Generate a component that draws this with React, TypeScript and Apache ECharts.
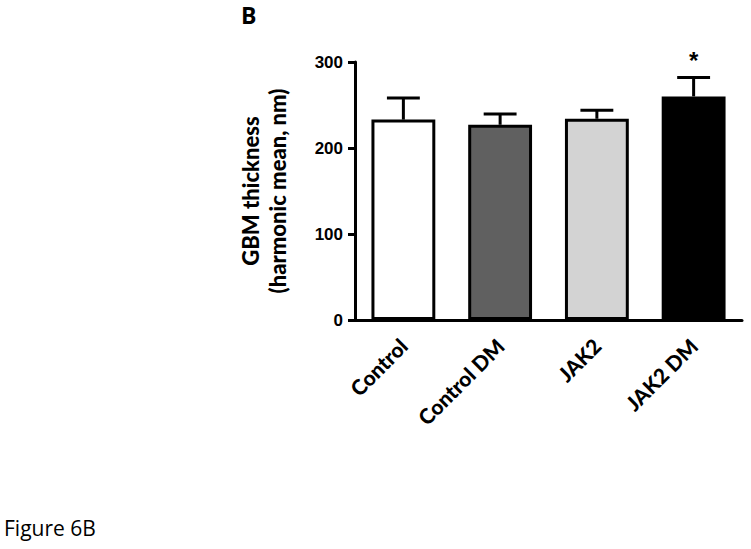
import React, { useEffect, useRef } from "react";
import * as echarts from "echarts";

const categories = ["Control", "Control DM", "JAK2", "JAK2 DM"];
const means = [233, 227, 234, 260];
const sems = [25, 12.5, 10, 22];
const barColors = ["#ffffff", "#606060", "#d3d3d3", "#000000"];
const significance = ["", "", "", "*"];
const yMin = 0;
const yMax = 300;
const yInterval = 100;

export default function App() {
  const ref = useRef<HTMLDivElement>(null);
  useEffect(() => {
    document.body.style.margin = "0";
    const chart = echarts.init(ref.current!, null, { renderer: "svg" });
    const errData = categories.map((c, i) => [i, means[i], means[i] + sems[i], significance[i]]);
    chart.setOption({
      animation: false,
      backgroundColor: "#ffffff",
      grid: { left: 355, right: 9, top: 62, bottom: 229, containLabel: false },
      xAxis: {
        type: "category",
        data: categories,
        axisLine: { lineStyle: { color: "#000", width: 3 } },
        axisTick: { alignWithLabel: true, length: 6, lineStyle: { color: "#000", width: 3 } },
        axisLabel: {
          rotate: 45,
          margin: 22,
          color: "#000",
          fontFamily: "Lato",
          fontWeight: 900,
          fontSize: 21,
          interval: 0,
        },
      },
      yAxis: {
        type: "value",
        min: yMin,
        max: yMax,
        interval: yInterval,
        name: "GBM thickness\n(harmonic mean, nm)",
        nameLocation: "middle",
        nameRotate: 90,
        nameGap: 64,
        nameTextStyle: {
          color: "#000",
          fontFamily: "Lato",
          fontWeight: 900,
          fontSize: 22,
          lineHeight: 27,
        },
        splitLine: { show: false },
        axisLine: { show: true, lineStyle: { color: "#000", width: 3 } },
        axisTick: { show: true, length: 7, lineStyle: { color: "#000", width: 3 } },
        axisLabel: {
          margin: 12,
          color: "#000",
          fontFamily: "Liberation Sans",
          fontWeight: "bold",
          fontSize: 17,
        },
      },
      series: [
        {
          type: "bar",
          barWidth: "66%",
          data: means.map((v, i) => ({
            value: v,
            itemStyle: { color: barColors[i], borderColor: "#000", borderWidth: 3 },
          })),
          z: 2,
        },
        {
          type: "custom",
          z: 3,
          data: errData,
          renderItem: (params: any, api: any) => {
            const x = api.value(0);
            const base = api.coord([x, api.value(1)]);
            const top = api.coord([x, api.value(2)]);
            const half = api.size([1, 0])[0] * 0.17;
            const children: any[] = [
              {
                type: "line",
                shape: { x1: base[0], y1: base[1], x2: top[0], y2: top[1] },
                style: { stroke: "#000", lineWidth: 3 },
              },
              {
                type: "line",
                shape: { x1: top[0] - half, y1: top[1], x2: top[0] + half, y2: top[1] },
                style: { stroke: "#000", lineWidth: 3 },
              },
            ];
            const sig = significance[params.dataIndex];
            if (sig) {
              children.push({
                type: "text",
                x: top[0],
                y: top[1] - 17,
                style: {
                  text: sig,
                  fill: "#000",
                  font: "bold 24px 'Liberation Sans'",
                  align: "center",
                  verticalAlign: "middle",
                },
              });
            }
            return { type: "group", children };
          },
        },
      ],
      graphic: [
        {
          type: "text",
          left: 241,
          top: 3,
          style: { text: "B", fill: "#000", font: "bold 23px 'Open Sans'" },
        },
        {
          type: "text",
          left: 4,
          top: 517,
          style: { text: "Figure 6B", fill: "#000", font: "21px 'Open Sans'" },
        },
      ],
    });
    return () => chart.dispose();
  }, []);
  return <div ref={ref} style={{ width: 751, height: 549 }} />;
}
